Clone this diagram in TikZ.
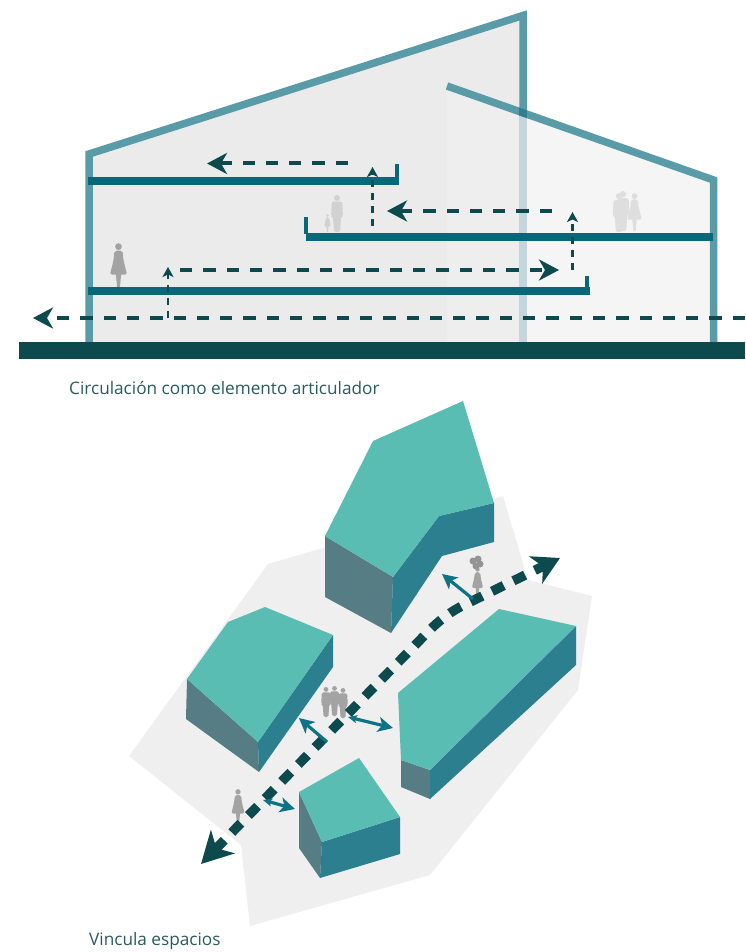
\documentclass[tikz,border=0pt]{standalone}
\usepackage{fontspec}
\setmainfont{Open Sans}
\usetikzlibrary{arrows.meta}
\definecolor{groundc}{HTML}{0D4A4D}
\definecolor{wallc}{HTML}{5A9BA8}
\definecolor{walllt}{HTML}{C3D6DC}
\definecolor{wallov}{HTML}{2F7F90}
\definecolor{floorc}{HTML}{08687A}
\definecolor{filla}{HTML}{EBEBEB}
\definecolor{fillb}{HTML}{EEEEEE}
\definecolor{fillc}{HTML}{F5F5F5}
\definecolor{plotc}{HTML}{EFEFEF}
\definecolor{roofc}{HTML}{5ABDB3}
\definecolor{facel}{HTML}{567D84}
\definecolor{facer}{HTML}{2C7F8F}
\definecolor{smallar}{HTML}{0F7285}
\definecolor{textc}{HTML}{2B5A60}
\newcommand{\womanfig}[4]{\begin{scope}[shift={(#1,#2)},scale=#3/100]
\fill[#4] (0,-92) circle (7.5);
\fill[#4,rounded corners=2pt] (-9,-83) -- (9,-83) -- (11,-62) -- (19,-30) -- (-19,-30) -- (-11,-62) -- cycle;
\fill[#4] (-6,-32) -- (6,-32) -- (3,0) -- (-3,0) -- cycle;
\end{scope}}
\newcommand{\manfig}[4]{\begin{scope}[shift={(#1,#2)},scale=#3/100]
\fill[#4] (0,-92) circle (8);
\fill[#4,rounded corners=1.5pt] (-14,-82) -- (14,-82) -- (16,-42) -- (11,-42) -- (8,0) -- (-8,0) -- (-11,-42) -- (-16,-42) -- cycle;
\end{scope}}
\tikzset{
  wall/.style={draw=wallc,line width=7.5pt,miter limit=10},
  floorline/.style={draw=floorc,line width=8pt},
  lip/.style={draw=floorc,line width=4pt},
  bigdash/.style={draw=groundc,line width=4pt,dash pattern=on 12.3pt off 11pt,
    -{Stealth[length=20pt,width=21pt,inset=6pt]}},
  updash/.style={draw=groundc,line width=2.2pt,dash pattern=on 7pt off 6pt,
    -{Stealth[length=10pt,width=11pt,inset=2.5pt]}},
  route/.style={draw=groundc,line width=9.5pt,dash pattern=on 13pt off 10.8pt,
    {Stealth[length=31pt,width=33pt,inset=9pt]}-{Stealth[length=27pt,width=30pt,inset=8pt]}},
  linkone/.style={draw=smallar,line width=3.2pt,-{Stealth[length=15pt,width=15pt,inset=4pt]}},
  linktwo/.style={draw=smallar,line width=3.2pt,{Stealth[length=9pt,width=8pt,inset=2pt]}-{Stealth[length=15pt,width=15pt,inset=4pt]}},
  caption/.style={text=textc,font=\fontsize{17.2}{19}\selectfont,anchor=base west,inner sep=0pt}
}
\begin{document}
\begin{tikzpicture}[x=1pt,y=-1pt]
\useasboundingbox (0,0) rectangle (745,952);
% section fills
\fill[filla] (89,154) -- (523,15.5) -- (523,342) -- (89,342) -- cycle;
\fill[fillb] (447,86) -- (523,112.8) -- (523,342) -- (447,342) -- cycle;
\fill[fillc] (523,112.8) -- (713.5,180) -- (713.5,342) -- (523,342) -- cycle;
% walls
\draw[wall] (89,342) -- (89,154) -- (523,15.5) -- (523,113);
\draw[draw=walllt,line width=7.5pt] (523,113) -- (523,342);
\draw[wall] (447,86) -- (713.5,180) -- (713.5,342);
\fill[wallov] (519.2,107.6) -- (526.8,110.2) -- (526.8,118) -- (519.2,115.6) -- cycle;
% people section
\womanfig{118.5}{288}{45}{black!36}
\manfig{337}{232}{37}{black!18}
\womanfig{327.5}{232}{18}{black!18}
\manfig{619}{232}{39}{black!13}
\manfig{623}{231}{40}{black!13}
\womanfig{634.5}{231}{38}{black!13}
% floors
\draw[floorline] (88,181) -- (397,181);
\draw[lip] (397,164) -- (397,185);
\draw[floorline] (306,237) -- (713,237);
\draw[lip] (306,217) -- (306,234);
\draw[floorline] (88,291) -- (590,291);
\draw[lip] (587,276) -- (587,295);
% ground
\fill[groundc] (19,342) rectangle (745,359);
% circulation section
\coordinate (a1s) at (745,318); \coordinate (a1e) at (33,318);
\coordinate (a2s) at (168,318); \coordinate (a2e) at (168,267);
\coordinate (a3s) at (180,270); \coordinate (a3e) at (559,270);
\coordinate (a4s) at (572.5,270); \coordinate (a4e) at (572.5,212);
\coordinate (a5s) at (552,211); \coordinate (a5e) at (387,211);
\coordinate (a6s) at (372.5,226); \coordinate (a6e) at (372.5,167);
\coordinate (a7s) at (348,163.5); \coordinate (a7e) at (207,163.5);
\draw[bigdash] (a1s) -- (a1e);
\draw[updash] (a2s) -- (a2e);
\draw[bigdash] (a3s) -- (a3e);
\draw[updash] (a4s) -- (a4e);
\draw[bigdash] (a5s) -- (a5e);
\draw[updash] (a6s) -- (a6e);
\draw[bigdash] (a7s) -- (a7e);
\node[caption] (cap1) at (69,394) {Circulación como elemento articulador};
% plot
\fill[plotc] (268,564) -- (503,496) -- (528,580) -- (592,596) -- (578,690) -- (430,875) -- (250,926) -- (241,845) -- (129,756) -- cycle;
% building top
\fill[facel] (325,536) -- (393,577) -- (391,633) -- (325,597) -- cycle;
\fill[facer] (494,503) -- (494,542) -- (442,556) -- (391,633) -- (393,577) -- (439,516) -- cycle;
\fill[roofc] (373,441) -- (463,401) -- (494,503) -- (439,516) -- (393,577) -- (325,536) -- cycle;
% building left
\fill[facel] (187,679) -- (258,742) -- (259,772) -- (186,719) -- cycle;
\fill[facer] (333,635) -- (333,667) -- (259,772) -- (258,742) -- cycle;
\fill[roofc] (187,679) -- (228,622) -- (265,607) -- (333,635) -- (258,742) -- cycle;
% building right
\fill[facel] (401,760) -- (430,770) -- (430,799) -- (401,787) -- cycle;
\fill[facer] (576,626) -- (576,665) -- (430,799) -- (430,770) -- cycle;
\fill[roofc] (398,693) -- (499,609) -- (576,626) -- (430,770) -- (401,760) -- cycle;
% building bottom
\fill[facel] (299,792) -- (322,842) -- (320,878) -- (299,848) -- cycle;
\fill[facer] (322,842) -- (400,817) -- (400,854) -- (320,878) -- cycle;
\fill[roofc] (299,792) -- (359,758) -- (400,817) -- (322,842) -- cycle;
% people plan
\womanfig{238}{824}{35}{black!36}
\manfig{326}{717}{30}{black!36}
\manfig{334.5}{716}{30}{black!36}
\manfig{343}{718}{30}{black!36}
\womanfig{477.5}{597}{30}{black!36}
\fill[black!42] (473,561) circle (3.5) (478,559) circle (3.5) (480,564) circle (3.5) (476,566) circle (3.5);
% route
\coordinate (rs) at (201,864); \coordinate (re) at (560,558);
\coordinate (rb) at (421,639); \coordinate (rc) at (462,606);
\draw[route] (rs) -- (rb) .. controls (432,627) and (446,614) .. (rc) -- (re);
% links
\coordinate (l1s) at (327,742); \coordinate (l1e) at (299,718);
\coordinate (l2s) at (348,717); \coordinate (l2e) at (393,728);
\coordinate (l3s) at (263,800); \coordinate (l3e) at (295,809);
\coordinate (l4s) at (473,599); \coordinate (l4e) at (442,574);
\draw[linkone] (l1s) -- (l1e);
\draw[linktwo] (l2s) -- (l2e);
\draw[linktwo] (l3s) -- (l3e);
\draw[linkone] (l4s) -- (l4e);
\node[caption] (cap2) at (89,945) {Vincula espacios};
\end{tikzpicture}
\end{document}
